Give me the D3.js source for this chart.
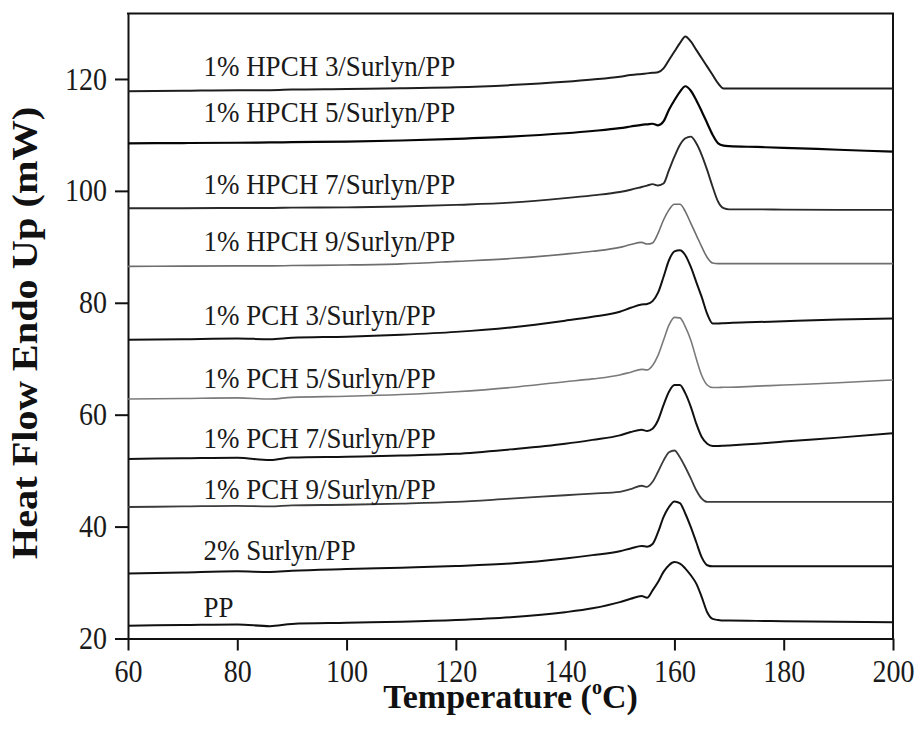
<!DOCTYPE html>
<html>
<head>
<meta charset="utf-8">
<script src="https://cdn.jsdelivr.net/npm/d3@7"></script>
<style>
    html, body { margin: 0; padding: 0; background: #fff; }
    svg { display: block; }
</style>
</head>
<body>
<div id="chart"></div>
<script>
// ***************数据*******************
const temps = [60, 70, 80, 86, 90, 100, 110, 120, 130, 140, 145, 150, 152, 154, 155, 156, 157, 158, 159, 160,
    161, 162, 163, 164, 165, 166, 167, 168, 169, 170, 175, 180, 190, 200];

const hpch3 = [117.8, 117.9, 118.0, 118.0, 118.1, 118.2, 118.35, 118.5, 118.9, 119.5, 119.9, 120.4, 120.7, 120.9, 121.0, 121.1, 121.2, 121.9, 123.4, 124.9,
    126.4, 127.6, 126.7, 125.2, 123.7, 122.2, 120.7, 119.2, 118.3, 118.3, 118.3, 118.3, 118.3, 118.3];
const hpch5 = [108.5, 108.55, 108.6, 108.65, 108.7, 108.8, 109.0, 109.3, 109.7, 110.3, 110.7, 111.2, 111.5, 111.8, 111.9, 112.0, 111.7, 112.4, 114.5, 116.2,
    117.7, 118.7, 117.9, 116.2, 114.2, 112.1, 110.0, 108.5, 108.1, 108.0, 107.85, 107.7, 107.35, 107.0];
const hpch7 = [96.9, 96.9, 96.95, 96.95, 97.0, 97.05, 97.2, 97.5, 97.9, 98.7, 99.2, 99.8, 100.2, 100.7, 100.95, 101.2, 100.95, 101.3, 103.7, 106.1,
    108.2, 109.4, 109.7, 108.5, 106.4, 103.7, 100.7, 98.05, 96.9, 96.7, 96.7, 96.65, 96.6, 96.6];
const hpch9 = [86.5, 86.55, 86.6, 86.6, 86.65, 86.75, 86.95, 87.4, 87.9, 88.7, 89.2, 89.9, 90.4, 90.8, 90.5, 90.7, 92.4, 94.8, 96.6, 97.6,
    97.6, 96.3, 94.2, 92.1, 90.0, 88.1, 87.1, 87.0, 87.0, 87.0, 87.0, 87.0, 87.0, 87.0];
const pch3 = [73.4, 73.5, 73.6, 73.5, 73.75, 73.95, 74.3, 74.8, 75.6, 76.8, 77.5, 78.4, 79.1, 79.7, 79.8, 80.3, 81.8, 84.6, 87.6, 89.2,
    89.4, 88.5, 86.4, 83.7, 81.0, 78.0, 76.3, 76.3, 76.35, 76.4, 76.55, 76.7, 77.0, 77.2];
const pch5 = [62.8, 62.9, 63.0, 62.8, 63.1, 63.3, 63.6, 64.1, 64.85, 65.9, 66.4, 67.1, 67.6, 68.1, 68.0, 68.8, 70.6, 73.3, 76.0, 77.4,
    77.3, 75.7, 73.3, 70.0, 67.0, 65.3, 64.85, 64.85, 64.9, 64.9, 65.1, 65.3, 65.7, 66.2];
const pch7 = [52.1, 52.2, 52.3, 51.9, 52.35, 52.5, 52.7, 53.0, 53.8, 54.8, 55.5, 56.3, 56.9, 57.3, 57.1, 57.5, 59.0, 61.7, 64.1, 65.3,
    65.3, 63.8, 61.4, 58.4, 56.0, 54.8, 54.4, 54.4, 54.45, 54.5, 54.8, 55.2, 55.9, 56.7];
const pch9 = [43.5, 43.6, 43.7, 43.6, 43.8, 43.9, 44.1, 44.4, 45.0, 45.6, 45.9, 46.2, 46.7, 47.3, 47.1, 48.0, 49.8, 51.8, 53.3, 53.6,
    52.4, 50.6, 48.6, 46.5, 45.0, 44.4, 44.4, 44.4, 44.4, 44.4, 44.4, 44.4, 44.4, 44.4];
const surlynPP = [31.6, 31.8, 32.0, 31.9, 32.1, 32.4, 32.65, 32.95, 33.4, 34.3, 34.9, 35.6, 36.1, 36.55, 36.4, 36.9, 39.0, 41.7, 43.5, 44.5,
    44.2, 42.3, 39.9, 37.2, 34.5, 33.1, 32.9, 32.9, 32.9, 32.9, 32.9, 32.9, 32.9, 32.9];
const pp = [22.3, 22.4, 22.5, 22.2, 22.6, 22.8, 23.0, 23.3, 23.8, 24.7, 25.4, 26.5, 27.1, 27.6, 27.3, 28.6, 30.1, 31.9, 33.1, 33.65,
    33.4, 32.5, 31.3, 29.8, 27.4, 24.7, 23.5, 23.3, 23.2, 23.2, 23.15, 23.1, 23.0, 22.9];

const seriesNames = ['1% HPCH 3/Surlyn/PP', '1% HPCH 5/Surlyn/PP', '1% HPCH 7/Surlyn/PP', '1% HPCH 9/Surlyn/PP',
    '1% PCH 3/Surlyn/PP', '1% PCH 5/Surlyn/PP', '1% PCH 7/Surlyn/PP', '1% PCH 9/Surlyn/PP', '2% Surlyn/PP', 'PP'];
const seriesValues = [hpch3, hpch5, hpch7, hpch9, pch3, pch5, pch7, pch9, surlynPP, pp];
// 标签所在高度 (mW) 与温度
const labelLevels = [120.5, 112.3, 99.4, 89.2, 76.0, 64.7, 54.0, 45.0, 34.1, 23.9];
const labelTemp = 73.8;

const xTicks = [60, 80, 100, 120, 140, 160, 180, 200];
const yTicks = [20, 40, 60, 80, 100, 120];

// 样式
const serif = '"Liberation Serif", "Times New Roman", serif';
const stretchY = 1.12; // 原图文字纵向略拉伸
const lineColors = ['#1e1e1e', '#050505', '#2a2a2a', '#6e6e6e', '#111', '#7a7a7a', '#111', '#3c3c3c', '#111', '#111'];
const lineWidths = [2, 2.2, 1.9, 1.6, 2, 1.6, 2, 1.8, 2, 2];

// ***************尺寸*******************
const width = 921;
const height = 742;
const paddingLeft = 128;
const paddingRight = 28;
const paddingTop = 13.5;
const paddingBottom = 103.5;

const xScale = d3.scaleLinear()
    .domain([60, 200])
    .range([paddingLeft, width - paddingRight]);
const yScale = d3.scaleLinear()
    .domain([20, 131.7])
    .range([height - paddingBottom, paddingTop]);

const svg = d3.select('#chart').append('svg')
    .attr('width', width)
    .attr('height', height);

// 文字纵向拉伸，保持基线位置
function stretch(sel) {
    sel.each(function () {
        const t = d3.select(this);
        const y = +t.attr('y') || 0;
        t.attr('y', y / stretchY).attr('transform', `scale(1,${stretchY})`);
    });
}

// ***************坐标轴***************
const xAxis = d3.axisBottom(xScale)
    .tickValues(xTicks)
    .tickSize(12)
    .tickSizeOuter(0)
    .tickPadding(9)
    .tickFormat(d3.format('d'));
const yAxis = d3.axisLeft(yScale)
    .tickValues(yTicks)
    .tickSize(13)
    .tickSizeOuter(0)
    .tickPadding(8)
    .tickFormat(d3.format('d'));

svg.append('g')
    .attr('class', 'axis x-axis')
    .attr('transform', `translate(0,${height - paddingBottom})`)
    .call(xAxis);
svg.append('g')
    .attr('class', 'axis y-axis')
    .attr('transform', `translate(${paddingLeft},0)`)
    .call(yAxis);

svg.selectAll('.axis text')
    .style('font-family', serif)
    .style('font-size', '28px')
    .style('fill', '#1a1a1a')
    .call(stretch);
svg.selectAll('.axis path, .axis line')
    .style('stroke', '#111')
    .style('stroke-width', 2);

// 上边框和右边框
svg.append('line')
    .attr('x1', paddingLeft - 1)
    .attr('x2', width - paddingRight + 1)
    .attr('y1', paddingTop)
    .attr('y2', paddingTop)
    .attr('stroke', '#111')
    .attr('stroke-width', 2);
svg.append('line')
    .attr('x1', width - paddingRight)
    .attr('x2', width - paddingRight)
    .attr('y1', paddingTop)
    .attr('y2', height - paddingBottom)
    .attr('stroke', '#111')
    .attr('stroke-width', 2);

// ***************曲线******************
const line = d3.line()
    .x((d) => xScale(d.t))
    .y((d) => yScale(d.v))
    .curve(d3.curveMonotoneX);

const curveData = seriesValues.map((vals) => vals.map((v, i) => ({ t: temps[i], v: v })));

svg.append('g')
    .attr('class', 'curves')
    .selectAll('path')
    .data(curveData)
    .enter()
    .append('path')
    .attr('fill', 'none')
    .attr('stroke', (d, i) => lineColors[i])
    .attr('stroke-width', (d, i) => lineWidths[i])
    .attr('stroke-linejoin', 'round')
    .attr('d', line);

// 曲线名称
svg.append('g')
    .selectAll('text')
    .data(seriesNames)
    .enter()
    .append('text')
    .style('font-family', serif)
    .style('font-size', '27px')
    .style('fill', '#1a1a1a')
    .attr('x', xScale(labelTemp))
    .attr('y', (d, i) => yScale(labelLevels[i]))
    .text((d) => d)
    .call(stretch);

// ***************轴标题***************
const xTitle = svg.append('text')
    .style('font-family', serif)
    .style('font-weight', 'bold')
    .style('font-size', '34px')
    .style('fill', '#111')
    .attr('text-anchor', 'middle')
    .attr('x', (paddingLeft + width - paddingRight) / 2)
    .attr('y', 708);
xTitle.append('tspan').text('Temperature (');
xTitle.append('tspan').style('font-size', '20px').attr('dy', -14).text('o');
xTitle.append('tspan').attr('dy', 14).text('C)');

svg.append('text')
    .style('font-family', serif)
    .style('font-weight', 'bold')
    .style('font-size', '36px')
    .style('fill', '#111')
    .attr('text-anchor', 'middle')
    .attr('transform', `translate(37,${333}) rotate(-90) scale(${stretchY},1)`)
    .text('Heat Flow Endo Up (mW)');
</script>
</body>
</html>
